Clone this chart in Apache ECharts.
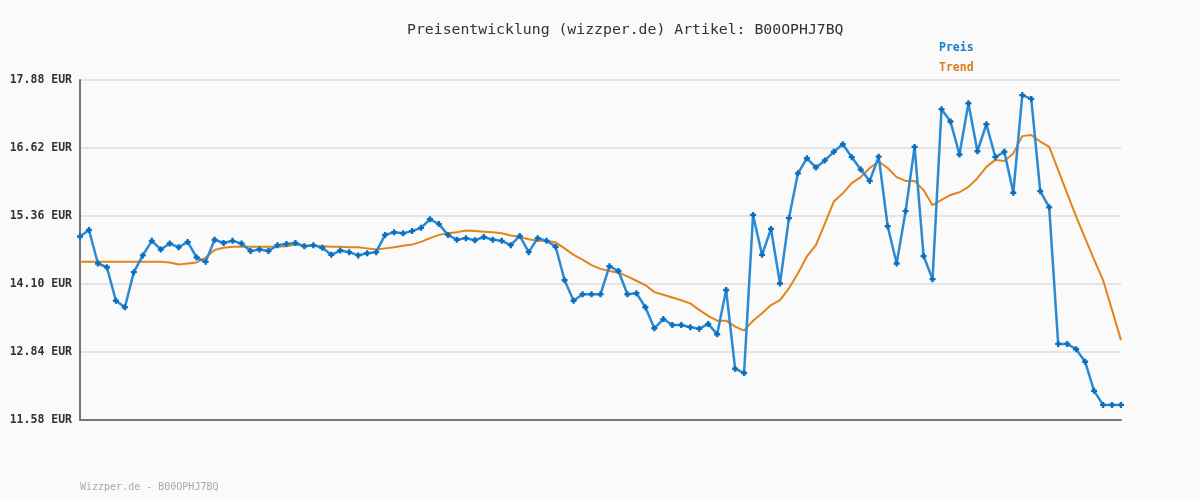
<!DOCTYPE html>
<html>
<head>
<meta charset="utf-8">
<script src="https://cdn.jsdelivr.net/npm/echarts@6/dist/echarts.min.js"></script>
<style>
html,body{margin:0;padding:0;background:#fafafa;}
#chart{width:1200px;height:500px;}
</style>
</head>
<body>
<div id="chart"></div>
<script>
// ---- data ----
const titleText = 'Preisentwicklung (wizzper.de) Artikel: B00OPHJ7BQ';
const footerText = 'Wizzper.de - B00OPHJ7BQ';
const seriesNames = ['Preis', 'Trend'];
const yTickLabels = ['11.58', '12.84', '14.10', '15.36', '16.62', '17.88'];

const preis = [
  14.98, 15.10, 14.48, 14.41, 13.79, 13.67, 14.32, 14.63, 14.90, 14.74,
  14.85, 14.78, 14.88, 14.59, 14.51, 14.92, 14.86, 14.90, 14.85, 14.71,
  14.74, 14.71, 14.82, 14.84, 14.86, 14.80, 14.82, 14.77, 14.64, 14.72,
  14.69, 14.63, 14.67, 14.69, 15.01, 15.06, 15.04, 15.08, 15.14, 15.30,
  15.21, 15.01, 14.92, 14.95, 14.91, 14.97, 14.92, 14.90, 14.82, 14.99,
  14.69, 14.95, 14.90, 14.79, 14.17, 13.79, 13.91, 13.91, 13.91, 14.43,
  14.34, 13.91, 13.93, 13.67, 13.28, 13.45, 13.34, 13.34, 13.30, 13.27,
  13.36, 13.17, 13.99, 12.53, 12.45, 15.38, 14.64, 15.12, 14.11, 15.32,
  16.15, 16.43, 16.26, 16.39, 16.55, 16.69, 16.45, 16.22, 16.01, 16.46,
  15.17, 14.48, 15.45, 16.64, 14.62, 14.19, 17.34, 17.11, 16.50, 17.45,
  16.56, 17.06, 16.45, 16.55, 15.79, 17.60, 17.53, 15.82, 15.52, 12.99,
  12.99, 12.89, 12.66, 12.12, 11.86, 11.86, 11.86
];

const trend = [
  14.51, 14.51, 14.51, 14.51, 14.51, 14.51, 14.51, 14.51, 14.51, 14.51,
  14.50, 14.46, 14.48, 14.50, 14.59, 14.73, 14.77, 14.79, 14.79, 14.79,
  14.79, 14.79, 14.79, 14.80, 14.83, 14.81, 14.81, 14.80, 14.79, 14.79,
  14.78, 14.78, 14.76, 14.74, 14.76, 14.78, 14.81, 14.83, 14.88, 14.95,
  15.01, 15.04, 15.06, 15.09, 15.08, 15.07, 15.06, 15.04, 15.00, 14.97,
  14.93, 14.90, 14.90, 14.87, 14.76, 14.64, 14.55, 14.45, 14.38, 14.34,
  14.31, 14.24, 14.16, 14.08, 13.95, 13.90, 13.85, 13.80, 13.74, 13.62,
  13.51, 13.42, 13.42, 13.31, 13.235, 13.42, 13.56, 13.71, 13.80, 14.02,
  14.30, 14.61, 14.82, 15.22, 15.63, 15.78, 15.97, 16.08, 16.25, 16.37,
  16.25, 16.08, 16.01, 16.01, 15.84, 15.56, 15.66, 15.75, 15.80, 15.90,
  16.06, 16.27, 16.40, 16.38, 16.52, 16.84, 16.86, 16.74, 16.64, 16.21,
  15.78, 15.35, 14.95, 14.55, 14.17, 13.62, 13.06
];

// category axis: one slot per observation (index only, labels hidden)
const categories = preis.map((_, i) => String(i + 1));

// ---- chart ----
const yTickValues = yTickLabels.map(Number);
const chart = echarts.init(document.getElementById('chart'), null, {renderer: 'canvas'});
const mono = '"DejaVu Sans Mono", "Liberation Mono", monospace';

chart.setOption({
  backgroundColor: '#fafafa',
  animation: false,
  title: {
    text: titleText,
    left: 402,
    top: 18,
    textStyle: {fontFamily: mono, fontSize: 14.8, fontWeight: 'normal', color: '#333'}
  },
  legend: {
    orient: 'vertical',
    left: 929,
    top: 37,
    itemWidth: 0,
    itemHeight: 0,
    itemGap: 8,
    selectedMode: false,
    data: [
      {name: seriesNames[0], icon: 'rect', textStyle: {color: '#1a7cc6'}},
      {name: seriesNames[1], icon: 'rect', textStyle: {color: '#dc7c12'}}
    ],
    textStyle: {fontFamily: mono, fontSize: 11.5, fontWeight: 'bold'}
  },
  graphic: [{
    type: 'text',
    left: 80,
    top: 482,
    style: {text: footerText, font: '10px ' + mono, fill: '#aaaaaa'}
  }],
  grid: {left: 80, right: 79, top: 80, bottom: 80, containLabel: false},
  xAxis: {
    type: 'category',
    data: categories,
    boundaryGap: false,
    axisLine: {show: true, lineStyle: {color: '#777', width: 2}},
    axisTick: {show: false},
    axisLabel: {show: false},
    splitLine: {show: false}
  },
  yAxis: {
    type: 'value',
    min: yTickValues[0],
    max: yTickValues[yTickValues.length - 1],
    axisLine: {show: true, lineStyle: {color: '#777', width: 2}},
    axisTick: {show: false, customValues: yTickValues},
    axisLabel: {
      customValues: yTickValues,
      formatter: v => v.toFixed(2) + ' EUR',
      fontFamily: mono,
      fontSize: 11.5,
      fontWeight: 'bold',
      color: '#333',
      margin: 8
    },
    splitLine: {show: true, lineStyle: {color: '#e4e4e4', width: 2}}
  },
  series: [
    {
      name: seriesNames[1],
      type: 'line',
      data: trend,
      showSymbol: false,
      symbol: 'none',
      lineStyle: {color: '#e2841a', width: 2},
      itemStyle: {color: '#e2841a'},
      z: 2
    },
    {
      name: seriesNames[0],
      type: 'line',
      data: preis,
      symbol: 'path://M1.5,0h2v1.5h1.5v2h-1.5v1.5h-2v-1.5h-1.5v-2h1.5z',
      symbolSize: 6,
      showAllSymbol: true,
      lineStyle: {color: '#2a8ad4', width: 2.5},
      itemStyle: {color: '#0b6fbf'},
      z: 3
    }
  ]
});
</script>
</body>
</html>
